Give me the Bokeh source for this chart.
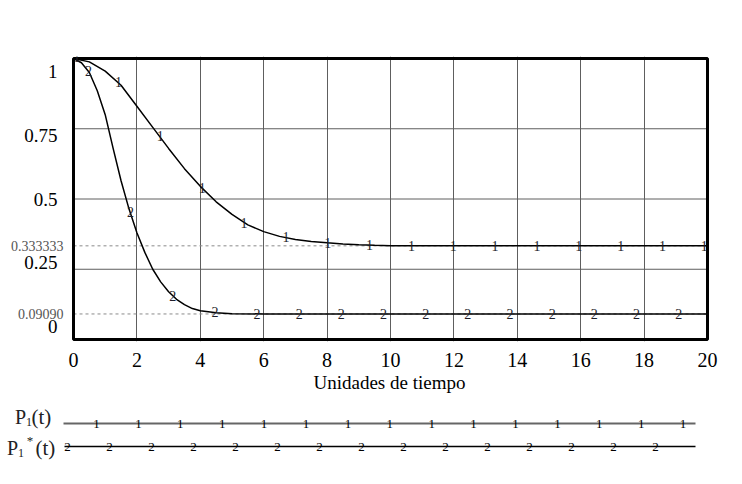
from bokeh.plotting import figure
from bokeh.models import FixedTicker, Range1d, Title
from bokeh.layouts import column
from bokeh.embed import file_html
from bokeh.resources import INLINE
from bokeh.core.properties import value

# data
t_p1 = [0, 0.5, 1, 1.5, 2, 2.5, 3, 3.5, 4, 4.5, 5, 5.5, 6, 6.5, 7, 7.5, 8, 8.5, 9, 9.5, 10, 12, 14, 16, 18, 20]
p1 = [1.0, 0.988, 0.955, 0.905, 0.83, 0.755, 0.68, 0.608, 0.545, 0.49, 0.445, 0.408, 0.384, 0.367, 0.356,
      0.349, 0.344, 0.34, 0.337, 0.335, 0.334, 0.3335, 0.3334, 0.3333, 0.3333, 0.3333]

t_p1s = [0, 0.25, 0.5, 0.75, 1, 1.25, 1.5, 1.75, 2, 2.25, 2.5, 2.75, 3, 3.25, 3.5, 3.75, 4, 4.5, 5, 6,
         8, 10, 12, 14, 16, 18, 20]
p1s = [1.0, 0.985, 0.95, 0.885, 0.8, 0.68, 0.565, 0.465, 0.38, 0.31, 0.25, 0.205, 0.17, 0.143, 0.124,
       0.11, 0.102, 0.095, 0.092, 0.0909, 0.0909, 0.0909, 0.0909, 0.0909, 0.0909, 0.0909, 0.0909]

# curve labels ("1" / "2") as drawn on the curves
mark1_t = [0.1, 1.42, 2.74, 4.06, 5.38, 6.70, 8.02, 9.34, 10.66, 11.98, 13.30, 14.62, 15.94, 17.26, 18.58, 19.90]
mark1_y = [1.005, 0.915, 0.725, 0.54, 0.415, 0.364, 0.345, 0.337, 0.3345, 0.334, 0.3335, 0.3333, 0.3333,
           0.3333, 0.3333, 0.3333]
mark2_t = [0.47, 1.80, 3.13, 4.46, 5.79, 7.12, 8.45, 9.78, 11.11, 12.44, 13.77, 15.10, 16.43, 17.76, 19.09]
mark2_y = [0.955, 0.455, 0.155, 0.097, 0.092, 0.0909, 0.0909, 0.0909, 0.0909, 0.0909, 0.0909, 0.0909,
           0.0909, 0.0909, 0.0909]

limits = [0.333333, 0.0909]
limit_labels = ["0.333333", "0.09090"]

x_ticks = [0, 2, 4, 6, 8, 10, 12, 14, 16, 18, 20]
y_ticks = [0, 0.25, 0.5, 0.75, 1]
y_tick_labels = ["0", "0.25", "0.5", "0.75", "1"]
x_title = "Unidades de tiempo"

SERIF = "Liberation Serif"

# frame reaches the left edge so the y labels (drawn as text) are not clipped
px_x = 31.7    # pixels per time unit
px_y = 281.0   # pixels per probability unit
x0, x1 = x_ticks[0], x_ticks[-1]
y0, y1 = y_ticks[0], y_ticks[-1]
p = figure(width=734, height=400,
           x_range=Range1d(x0 - 73 / px_x, x1 + 2 / px_x),
           y_range=Range1d(y0 - 2 / px_y, y1 + 2 / px_y),
           output_backend="svg", toolbar_location=None, y_axis_type=None,
           min_border_left=0, min_border_right=25, min_border_top=56, min_border_bottom=59)
p.frame_align = False
p.outline_line_color = None

# x axis
p.xaxis.ticker = FixedTicker(ticks=x_ticks)
p.xaxis.major_label_text_font = SERIF
p.xaxis.major_label_text_font_size = "20px"
p.xaxis.major_label_text_color = "black"
p.xaxis.major_label_standoff = 5
p.xaxis.axis_line_color = None
p.xaxis.major_tick_line_color = None
p.xaxis.minor_tick_line_color = None

# axis title, centred under the 0..20 box rather than the whole frame
p.add_layout(Title(text=x_title, align="left", offset=313, standoff=0, text_font=SERIF,
                   text_font_size="19px", text_font_style="normal", text_color="black"), "below")

grid_color = "#5e5e5e"
p.xgrid.ticker = FixedTicker(ticks=x_ticks[1:-1])
p.xgrid.grid_line_color = grid_color
inner_y = y_ticks[1:-1]
p.segment(x0=[x0] * len(inner_y), y0=inner_y, x1=[x1] * len(inner_y), y1=inner_y,
          line_color=grid_color, line_width=1)

# asymptotes
p.segment(x0=[x0] * len(limits), y0=limits, x1=[x1] * len(limits), y1=limits,
          line_color="#8a8a8a", line_dash="3 3", line_width=1)
p.text([x0] * len(limits), limits, text=limit_labels, x_offset=-10, text_align="right",
       text_baseline="middle", text_font=value(SERIF), text_font_size="14px", text_color="#555555")

# y tick labels, squeezed slightly toward the middle like the original
y_label_pos = [0.5 + (v - 0.5) * 0.907 for v in y_ticks]
p.text([x0] * len(y_ticks), y_label_pos, text=y_tick_labels, x_offset=-16, text_align="right",
       text_baseline="middle", text_font=value(SERIF), text_font_size="19px", text_color="black")

# plot box
p.quad(left=[x0], right=[x1], bottom=[y0], top=[y1], fill_color=None,
       line_color="black", line_width=3)

p.line(t_p1, p1, line_color="black", line_width=1.5)
p.line(t_p1s, p1s, line_color="black", line_width=1.5)
p.text(mark1_t, mark1_y, text=["1"] * len(mark1_t), text_font=value(SERIF), text_font_size="14px",
       text_align="center", text_baseline="middle", text_color="#1e1e2a")
p.text(mark2_t, mark2_y, text=["2"] * len(mark2_t), text_font=value(SERIF), text_font_size="14px",
       text_align="center", text_baseline="middle", text_color="#1e1e2a")

# legend strip below the chart (coordinates in pixels of the strip)
leg = figure(width=734, height=70, x_range=Range1d(0, 734), y_range=Range1d(0, 70),
             output_backend="svg", toolbar_location=None, min_border=0,
             x_axis_type=None, y_axis_type=None, outline_line_color=None)
leg.frame_align = False
leg.grid.visible = False

row1_y, row2_y = 47, 24
leg.line([63, 695], [row1_y, row1_y], line_color="#666666", line_width=2)
leg.line([64, 695], [row2_y, row2_y], line_color="black", line_width=1.3)
n1 = 15
leg.text([96 + 41.9 * k for k in range(n1)], [row1_y] * n1, text=["1"] * n1,
         text_font=value(SERIF), text_font_size="13px", text_align="center", text_baseline="middle")
leg.text([67 + 42.0 * k for k in range(n1)], [row2_y] * n1, text=["2"] * n1,
         text_font=value(SERIF), text_font_size="13px", text_align="center", text_baseline="middle")

def leg_text(x, y, s, size, align="center"):
    leg.text([x], [y], text=[s], text_font=value(SERIF), text_font_size=size,
             text_align=align, text_baseline="middle", text_color="#222222")

leg_text(20, 54, "P", "20px")
leg_text(28.5, 49, "1", "12px")
leg_text(31, 54, "(t)", "21px", "left")
leg_text(12, 23, "P", "20px")
leg_text(20.5, 18, "1", "12px")
leg_text(29.5, 30, "*", "13px")
leg_text(35, 23, "(t)", "21px", "left")

open("out.html", "w").write(file_html(column(p, leg), INLINE))
